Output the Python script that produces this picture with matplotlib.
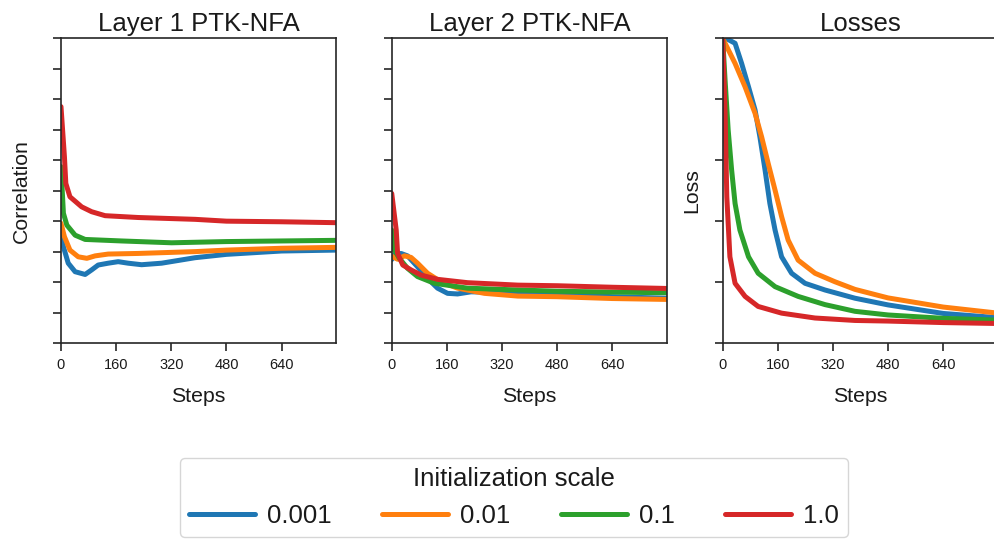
import numpy as np
import matplotlib
matplotlib.use("Agg")
import matplotlib.pyplot as plt

plt.rcParams['font.family'] = ['Liberation Sans', 'DejaVu Sans']

scales = ['0.001', '0.01', '0.1', '1.0']
colors = ['#1f77b4', '#ff7f0e', '#2ca02c', '#d62728']

# Layer 1 correlation (steps, values) per init scale
l1_x = {
    '0.001': [0, 7, 21, 41, 70, 89, 108, 137, 166, 195, 234, 292, 389, 480, 640, 799],
    '0.01': [0, 10, 26, 50, 75, 99, 137, 224, 389, 480, 640, 799],
    '0.1': [0, 7, 17, 41, 70, 176, 321, 480, 640, 799],
    '1.0': [0, 10, 14, 26, 60, 89, 128, 224, 389, 480, 640, 799],
}
l1_y = {
    '0.001': [0.371, 0.316, 0.262, 0.234, 0.225, 0.24, 0.256, 0.262, 0.267, 0.262, 0.257, 0.262, 0.28, 0.291, 0.302, 0.305],
    '0.01': [0.393, 0.349, 0.305, 0.283, 0.278, 0.286, 0.292, 0.294, 0.30, 0.305, 0.311, 0.314],
    '0.1': [0.579, 0.426, 0.387, 0.354, 0.34, 0.335, 0.329, 0.333, 0.335, 0.337],
    '1.0': [0.776, 0.611, 0.524, 0.48, 0.447, 0.431, 0.418, 0.412, 0.406, 0.40, 0.398, 0.395],
}

# Layer 2 correlation
l2_x = {
    '0.001': [0, 8, 27, 46, 75, 104, 133, 162, 191, 230, 317, 480, 640, 799],
    '0.01': [0, 17, 37, 56, 75, 104, 143, 191, 269, 366, 480, 640, 799],
    '0.1': [0, 8, 22, 46, 75, 124, 220, 366, 480, 640, 799],
    '1.0': [0, 13, 17, 32, 56, 85, 133, 220, 366, 480, 640, 799],
}
l2_y = {
    '0.001': [0.274, 0.289, 0.294, 0.286, 0.25, 0.212, 0.18, 0.163, 0.161, 0.168, 0.166, 0.163, 0.152, 0.147],
    '0.01': [0.285, 0.275, 0.286, 0.281, 0.262, 0.229, 0.201, 0.18, 0.163, 0.154, 0.152, 0.146, 0.143],
    '0.1': [0.371, 0.305, 0.278, 0.245, 0.218, 0.196, 0.18, 0.174, 0.17, 0.167, 0.165],
    '1.0': [0.491, 0.371, 0.294, 0.256, 0.24, 0.223, 0.209, 0.198, 0.19, 0.188, 0.183, 0.179],
}

# Losses
loss_x = {
    '0.001': [0, 15, 36, 55, 75, 94, 108, 123, 137, 152, 171, 200, 239, 297, 384, 480, 640, 799],
    '0.01': [0, 36, 65, 94, 113, 132, 152, 171, 190, 219, 268, 326, 384, 480, 640, 799],
    '0.1': [0, 7, 16, 26, 36, 50, 75, 103, 152, 219, 297, 384, 480, 640, 799],
    '1.0': [0, 7, 12, 21, 36, 65, 103, 171, 268, 384, 480, 640, 799],
}
loss_y = {
    '0.001': [1.0, 0.997, 0.984, 0.918, 0.841, 0.765, 0.677, 0.568, 0.458, 0.371, 0.283, 0.229, 0.196, 0.174, 0.147, 0.125, 0.097, 0.083],
    '0.01': [1.0, 0.918, 0.841, 0.754, 0.677, 0.59, 0.502, 0.415, 0.338, 0.272, 0.229, 0.201, 0.176, 0.148, 0.118, 0.098],
    '0.1': [1.0, 0.863, 0.699, 0.568, 0.458, 0.371, 0.283, 0.229, 0.185, 0.153, 0.126, 0.104, 0.092, 0.081, 0.075],
    '1.0': [1.0, 0.754, 0.48, 0.283, 0.196, 0.153, 0.12, 0.098, 0.082, 0.074, 0.072, 0.067, 0.064],
}

spine_c = '#262626'
text_c = '#1a1a1a'
fig = plt.figure(figsize=(9.95, 5.41), dpi=100)
w, h, b = 0.2767, 0.563, 0.366
axes = [fig.add_axes([0.0613, b, w, h]),
        fig.add_axes([0.3937, b, w, h]),
        fig.add_axes([0.7263, b, w, h])]

panels = [(l1_x, l1_y, 'Layer 1 PTK-NFA', 'Correlation', 11, np.arange(0, 1.01, 0.1)),
          (l2_x, l2_y, 'Layer 2 PTK-NFA', None, 0, np.arange(0, 1.01, 0.1)),
          (loss_x, loss_y, 'Losses', 'Loss', 5, np.arange(0, 1.01, 0.2))]

for ax, (xs, ys, title, ylab, ypad, yt) in zip(axes, panels):
    for s, c in zip(scales, colors):
        ax.plot(xs[s], ys[s], color=c, lw=3.6, label=s,
                solid_capstyle='round', solid_joinstyle='round')
    ax.set_xlim(0, 799)
    ax.set_ylim(0, 1)
    ax.set_xticks([0, 160, 320, 480, 640])
    ax.set_yticks(yt)
    ax.set_yticklabels([])
    ax.tick_params(length=5.5, width=1.2, color=spine_c, labelsize=10.5, pad=5,
                   labelcolor=text_c)
    for sp in ax.spines.values():
        sp.set_color(spine_c)
        sp.set_linewidth(1.2)
    ax.set_title(title, fontsize=18.5, pad=5, color=text_c)
    ax.set_xlabel('Steps', fontsize=15.3, labelpad=11, color=text_c)
    if ylab:
        ax.set_ylabel(ylab, fontsize=15.3, labelpad=ypad, color=text_c)

handles, labels = axes[0].get_legend_handles_labels()
leg = fig.legend(handles, labels, loc='lower center', bbox_to_anchor=(0.5166, -0.002),
                 ncol=4, title='Initialization scale', fontsize=18.5, title_fontsize=18.5,
                 frameon=True, fancybox=True, edgecolor='#cccccc', handlelength=2.57,
                 columnspacing=1.95, handletextpad=0.47, borderpad=0.35,
                 borderaxespad=0.2)
for t in leg.get_texts():
    t.set_color(text_c)
leg.get_title().set_color(text_c)

fig.savefig('out.png', dpi=100)
